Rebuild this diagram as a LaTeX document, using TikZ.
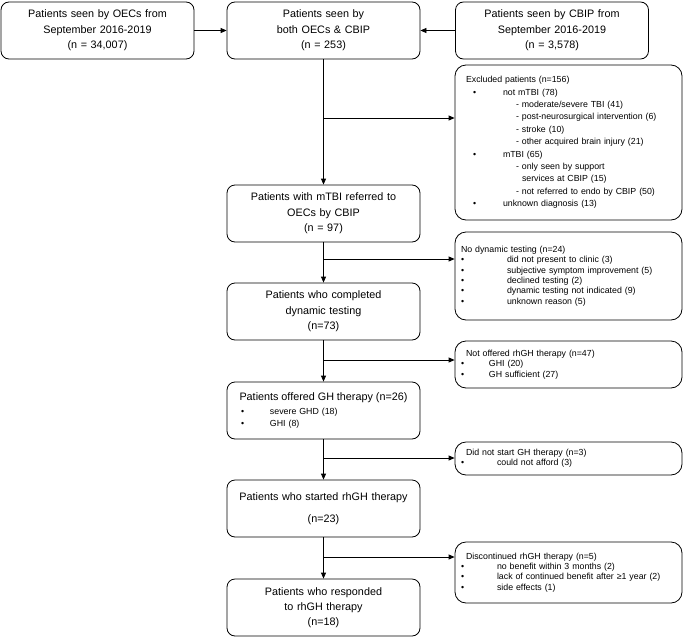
\documentclass[tikz,border=0pt]{standalone}
\usepackage{fontspec}
\setmainfont{Liberation Sans}
\usetikzlibrary{arrows.meta}

\newcommand{\bul}[2][46pt]{\makebox[#1][l]{\textbullet}#2}

\begin{document}
\begin{tikzpicture}[x=1pt, y=1pt,
    box/.style={draw, line width=0.8pt, rounded corners=8pt, minimum width=193pt, minimum height=57pt, text width=181pt, inner xsep=6pt, inner ysep=0pt, align=center, font=\fontsize{10.8}{15.3}\selectfont},
    side/.style={draw, line width=0.8pt, rounded corners=11pt, minimum width=227pt, text width=215pt, inner xsep=6pt, inner ysep=0pt, align=left, font=\fontsize{8.8}{10.4}\selectfont},
    arrow/.style={-{Triangle[length=6pt, width=5pt]}, line width=0.8pt}
]
\useasboundingbox (0,0) rectangle (685,-637);

% Sources
\node[box] (oecs) at (97.5, -30.5) {Patients seen by OECs from\\September 2016-2019\\(n = 34,007)};
\node[box] (both) at (323.5, -30.5) {Patients seen by\\both OECs \& CBIP\\(n = 253)};
\node[box] (cbip) at (552, -30.5) {Patients seen by CBIP from\\September 2016-2019\\(n = 3,578)};

% Main flow
\node[box] (mtbi) at (323.5, -213.5) {Patients with mTBI referred to\\OECs by CBIP\\(n = 97)};
\node[box] (tested) at (323.5, -311.5) {Patients who completed\\dynamic testing\\(n=73)};
\node[box, align=left, text width=165pt, inner xsep=14pt, font=\fontsize{8.8}{12}\selectfont] (offered) at (323.5, -410.5) {%
    \makebox[165pt][c]{\fontsize{10.8}{15.3}\selectfont Patients offered GH therapy (n=26)}\\[2pt]
    \bul[29pt]{severe GHD (18)}\\
    \bul[29pt]{GHI (8)}};
\node[box] (started) at (323.5, -508.5) {Patients who started rhGH therapy\\[6.4pt](n=23)};
\node[box] (responded) at (323.5, -607.5) {Patients who responded\\to rhGH therapy\\(n=18)};

% Drop-outs
\node[side, minimum height=155pt, font=\fontsize{8.8}{12.4}\selectfont] (excluded) at (568.5, -142.5) {%
    \hspace*{5pt}Excluded patients (n=156)\\
    \hspace*{12pt}\bul[30pt]{not mTBI (78)}\\
    \hspace*{55pt}- moderate/severe TBI (41)\\
    \hspace*{55pt}- post-neurosurgical intervention (6)\\
    \hspace*{55pt}- stroke (10)\\
    \hspace*{55pt}- other acquired brain injury (21)\\
    \hspace*{12pt}\bul[30pt]{mTBI (65)}\\
    \hspace*{55pt}- only seen by support\\
    \hspace*{61pt}services at CBIP (15)\\
    \hspace*{55pt}- not referred to endo by CBIP (50)\\
    \hspace*{12pt}\bul[30pt]{unknown diagnosis (13)}};
\node[side, minimum height=88pt] (nodynamic) at (568.5, -276) {%
    No dynamic testing (n=24)\\
    \bul{did not present to clinic (3)}\\
    \bul{subjective symptom improvement (5)}\\
    \bul{declined testing (2)}\\
    \bul{dynamic testing not indicated (9)}\\
    \bul{unknown reason (5)}};
\node[side, minimum height=47pt] (notoffered) at (568.5, -364.5) {%
    \hspace*{5pt}Not offered rhGH therapy (n=47)\\
    \bul[28pt]{GHI (20)}\\
    \bul[28pt]{GH sufficient (27)}};
\node[side, minimum height=33pt] (nostart) at (568.5, -458.5) {%
    \hspace*{5pt}Did not start GH therapy (n=3)\\
    \bul[36pt]{could not afford (3)}};
\node[side, minimum height=61pt] (stopped) at (568.5, -572.5) {%
    \hspace*{5pt}Discontinued rhGH therapy (n=5)\\
    \bul[36pt]{no benefit within 3 months (2)}\\
    \bul[36pt]{lack of continued benefit after ≥1 year (2)}\\
    \bul[36pt]{side effects (1)}};

% Branch points
\coordinate (split1) at (323.5, -118);
\coordinate (split2) at (323.5, -259);
\coordinate (split3) at (323.5, -360);
\coordinate (split4) at (323.5, -458);
\coordinate (split5) at (323.5, -557);

% Arrows
\draw[arrow] (oecs) -- (both);
\draw[arrow] (cbip) -- (both);
\draw[arrow] (both) -- (mtbi);
\draw[arrow] (mtbi) -- (tested);
\draw[arrow] (tested) -- (offered);
\draw[arrow] (offered) -- (started);
\draw[arrow] (started) -- (responded);
\draw[arrow] (split1) -- (split1 -| excluded.west);
\draw[arrow] (split2) -- (split2 -| nodynamic.west);
\draw[arrow] (split3) -- (split3 -| notoffered.west);
\draw[arrow] (split4) -- (split4 -| nostart.west);
\draw[arrow] (split5) -- (split5 -| stopped.west);

\end{tikzpicture}
\end{document}
